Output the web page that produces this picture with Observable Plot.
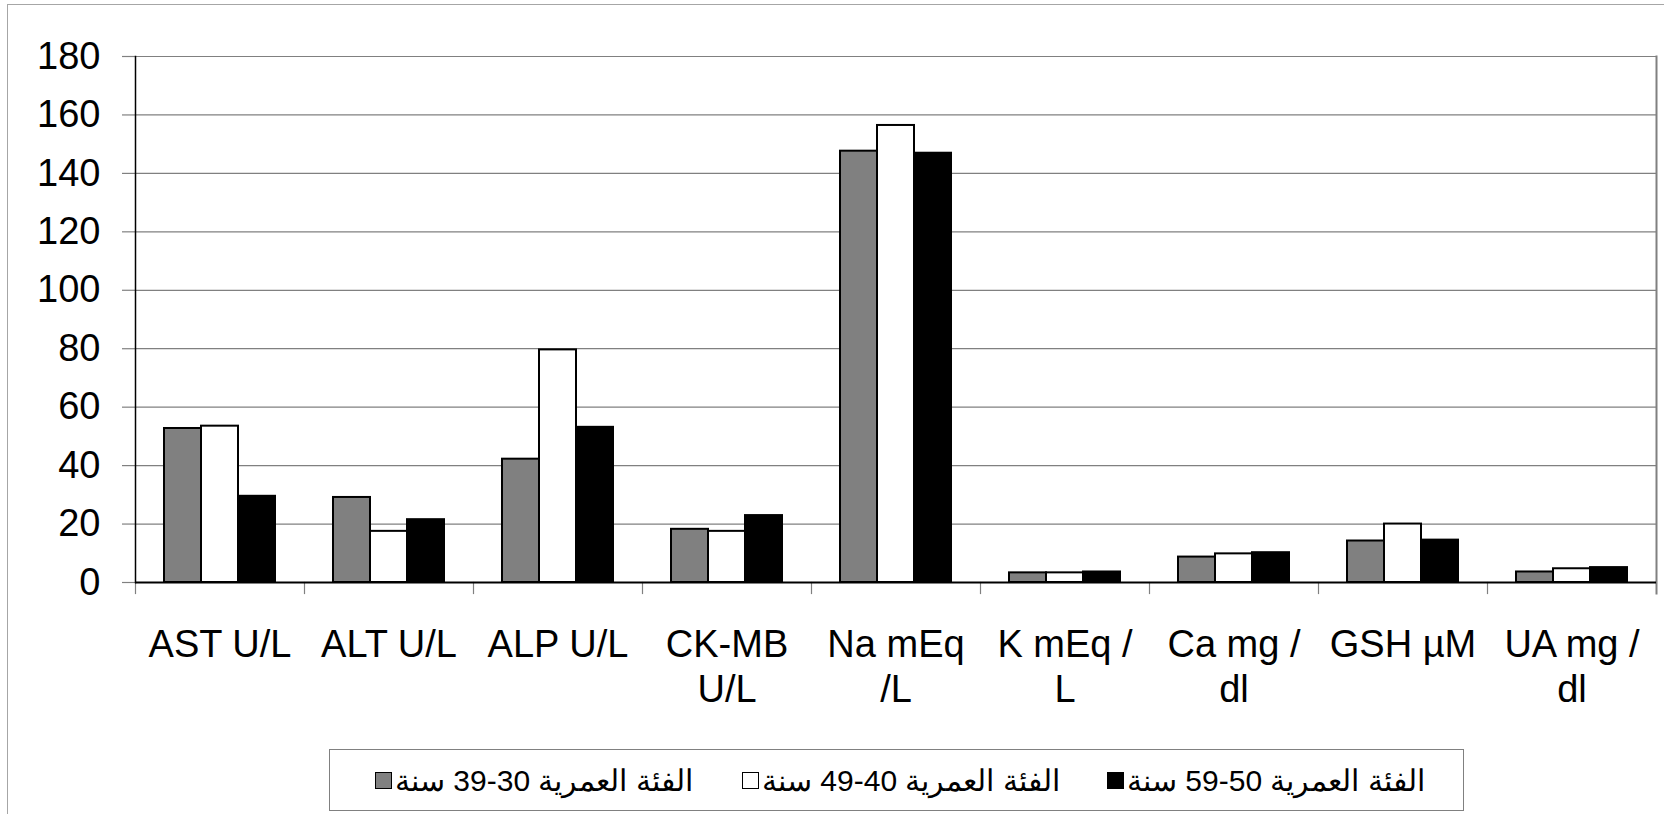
<!DOCTYPE html>
<html>
<head>
<meta charset="utf-8">
<script src="https://cdn.jsdelivr.net/npm/d3@7"></script>
<script src="https://cdn.jsdelivr.net/npm/@observablehq/plot@0.6"></script>
<style>
  html, body { margin: 0; padding: 0; background: #fff; overflow: hidden; }
  body { width: 1664px; height: 814px; position: relative; font-family: "Liberation Sans", Arial, sans-serif; }
  #outer { position: absolute; left: 7px; top: 4px; width: 1700px; height: 900px; border: 1px solid #a6a6a6; box-sizing: border-box; }
  #chart { position: absolute; left: 0; top: 0; }
  #legend { position: absolute; left: 329px; top: 749px; width: 1135px; height: 62px; border: 1px solid #808080; box-sizing: border-box;
            display: flex; align-items: center; font-size: 30px; color: #000; }
  .item { display: flex; align-items: center; position: absolute; top: 0; height: 100%; }
  .sw { width: 15px; height: 15px; border: 1.5px solid #000; margin-right: 3px; }
</style>
</head>
<body>
<div id="outer"></div>
<div id="chart"></div>
<div id="legend"></div>
<script>
// ---- data ----
const categories = ["AST U/L", "ALT U/L", "ALP U/L", "CK-MB U/L", "Na mEq /L", "K mEq / L", "Ca mg / dl", "GSH µM", "UA mg / dl"];
const tickLabels = ["AST U/L", "ALT U/L", "ALP U/L", "CK-MB\nU/L", "Na mEq\n/L", "K mEq /\nL", "Ca mg /\ndl", "GSH µM", "UA mg /\ndl"];
const seriesNames = ["الفئة العمرية 30-39 سنة", "الفئة العمرية 40-49 سنة", "الفئة العمرية 50-59 سنة"];
const age30_39 = [52.7, 29.1, 42.2, 18.2, 147.6, 3.3, 8.7, 14.2, 3.6];
const age40_49 = [53.5, 17.5, 79.6, 17.5, 156.4, 3.3, 9.8, 20.0, 4.7];
const age50_59 = [29.5, 21.5, 53.1, 22.9, 146.9, 3.6, 10.2, 14.5, 5.1];
const yTicks = [0, 20, 40, 60, 80, 100, 120, 140, 160, 180];
const seriesColors = ["#808080", "#ffffff", "#000000"];

// ---- layout ----
const W = 1664, H = 720, mTop = 56, mBottom = 138, mLeft = 132, mRight = 6;
const frameH = H - mTop - mBottom;

const allSeries = [age30_39, age40_49, age50_59];
const rows = [];
categories.forEach((c, i) => {
  seriesNames.forEach((s, j) => rows.push({cat: c, series: s, value: allSeries[j][i]}));
});

const chart = Plot.plot({
  width: W, height: H,
  marginTop: mTop, marginBottom: mBottom, marginLeft: mLeft, marginRight: mRight,
  style: {fontFamily: "'Liberation Sans', Arial, sans-serif", fontSize: "38px", color: "#000", background: "transparent", overflow: "visible"},
  fx: {domain: categories, padding: 0, label: null, axis: null},
  x: {domain: seriesNames, paddingInner: 0, paddingOuter: 0.74, axis: null},
  y: {domain: [0, 180], label: null},
  color: {domain: seriesNames, range: seriesColors},
  marks: [
    Plot.gridY(yTicks, {stroke: "#808080", strokeOpacity: 1, strokeWidth: 1.2}),
    Plot.axisY(yTicks, {tickSize: 13, tickPadding: 22, stroke: "#808080", strokeWidth: 1.2, fontSize: 38, label: null}),
    Plot.axisFx({anchor: "bottom", tickSize: 0, tickPadding: 42, fontSize: 38, lineHeight: 1.2, label: null,
                 tickFormat: d => tickLabels[categories.indexOf(d)]}),
    Plot.barY(rows, {fx: "cat", x: "series", y: "value", fill: "series", stroke: "#000", strokeWidth: 2}),
    Plot.frame({anchor: "left", stroke: "#808080", strokeWidth: 1.2, insetTop: frameH, insetBottom: -11}),
    Plot.frame({anchor: "right", facetAnchor: "right", stroke: "#808080", strokeWidth: 2, insetBottom: -11}),
    Plot.frame({anchor: "left", facetAnchor: "left", stroke: "#000", strokeWidth: 1.5}),
    Plot.ruleY([0], {stroke: "#000", strokeWidth: 2})
  ]
});
document.getElementById("chart").appendChild(chart);

// ---- legend ----
const legend = document.getElementById("legend");
const itemLeft = [45, 412, 777];
seriesNames.forEach((s, j) => {
  const it = document.createElement("div");
  it.className = "item";
  it.style.left = itemLeft[j] + "px";
  const sw = document.createElement("div");
  sw.className = "sw";
  sw.style.background = seriesColors[j];
  const tx = document.createElement("span");
  tx.textContent = s;
  tx.style.direction = "ltr";
  tx.style.unicodeBidi = "plaintext";
  it.appendChild(sw);
  it.appendChild(tx);
  legend.appendChild(it);
});
</script>
</body>
</html>
